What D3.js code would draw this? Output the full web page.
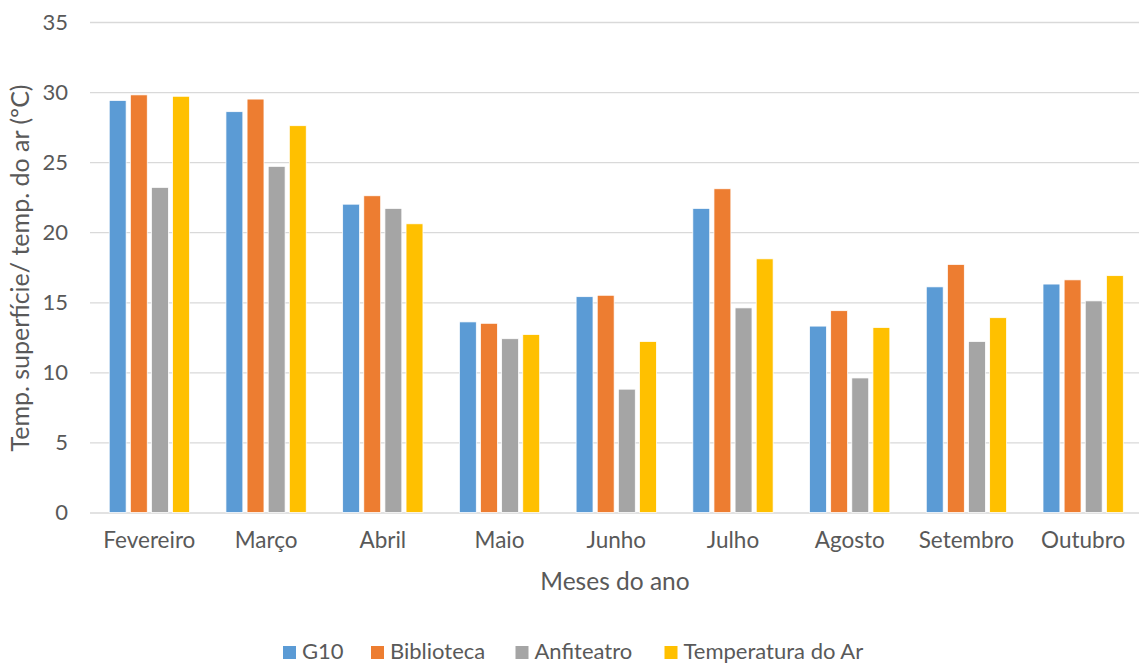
<!DOCTYPE html>
<html>
<head>
<meta charset="utf-8">
<script src="https://cdn.jsdelivr.net/npm/d3@7"></script>
<style>
  html, body { margin: 0; padding: 0; background: #fff; }
  text { font-family: Lato, "Open Sans", sans-serif; fill: #595959; }
</style>
</head>
<body>
<svg id="chart" width="1139" height="664"></svg>
<script>
// Monthly surface and air temperatures (ºC)
const months = ["Fevereiro", "Março", "Abril", "Maio", "Junho", "Julho", "Agosto", "Setembro", "Outubro"];
const seriesNames = ["G10", "Biblioteca", "Anfiteatro", "Temperatura do Ar"];
const g10        = [29.4, 28.6, 22.0, 13.6, 15.4, 21.7, 13.3, 16.1, 16.3];
const biblioteca = [29.8, 29.5, 22.6, 13.5, 15.5, 23.1, 14.4, 17.7, 16.6];
const anfiteatro = [23.2, 24.7, 21.7, 12.4, 8.8, 14.6, 9.6, 12.2, 15.1];
const tempAr     = [29.7, 27.6, 20.6, 12.7, 12.2, 18.1, 13.2, 13.9, 16.9];
const yTicks = [0, 5, 10, 15, 20, 25, 30, 35];
const colors = ["#5B9BD5", "#ED7D31", "#A5A5A5", "#FFC000"];

const seriesValues = [g10, biblioteca, anfiteatro, tempAr];
const svg = d3.select("#chart");

const plot = { left: 90, right: 1139, top: 22, bottom: 512.5 };

const y = d3.scaleLinear().domain([0, 35]).range([plot.bottom, plot.top]);
const x0 = d3.scaleBand().domain(months).range([91, 1141.5]).paddingInner(0.276).paddingOuter(0.138);
const x1 = d3.scaleBand().domain(seriesNames).range([0, x0.bandwidth()]).paddingInner(0.2).paddingOuter(0.1);
const color = d3.scaleOrdinal().domain(seriesNames).range(colors);

// Horizontal gridlines and y tick labels
const yAxis = d3.axisLeft(y).tickValues(yTicks).tickSize(-(plot.right - plot.left)).tickPadding(22);
const yg = svg.append("g").attr("transform", `translate(${plot.left},0)`).call(yAxis);
yg.select(".domain").remove();
yg.selectAll(".tick line").attr("stroke", "#D9D9D9").attr("stroke-width", 1.3);
yg.selectAll(".tick text").style("font-size", "22px").attr("fill", "#595959");

// Bars
const rows = months.map((m, i) => ({ month: m, values: seriesNames.map((s, j) => ({ series: s, value: seriesValues[j][i] })) }));
const groups = svg.append("g").selectAll("g").data(rows).join("g")
  .attr("transform", d => `translate(${x0(d.month)},0)`);
groups.selectAll("rect").data(d => d.values).join("rect")
  .attr("x", d => x1(d.series))
  .attr("y", d => y(d.value))
  .attr("width", x1.bandwidth())
  .attr("height", d => y(0) - y(d.value))
  .attr("fill", d => color(d.series))
  .attr("stroke", "#fff")
  .attr("stroke-width", 0.75);

// Category axis labels
const xAxis = d3.axisBottom(x0).tickSize(0).tickPadding(20);
const xg = svg.append("g").attr("transform", `translate(0,${plot.bottom})`).call(xAxis);
xg.select(".domain").remove();
xg.selectAll(".tick text").style("font-size", "22.5px").attr("fill", "#595959");

// Axis titles
svg.append("text").attr("x", 615).attr("y", 590).attr("text-anchor", "middle")
  .style("font-size", "24.5px").text("Meses do ano");
svg.append("text").attr("transform", "translate(29,268) rotate(-90)").attr("text-anchor", "middle")
  .style("font-size", "25px").text("Temp. superfície/ temp. do ar (ºC)");

// Legend
const legendX = [283, 371, 515.5, 664.5];
const legend = svg.append("g").selectAll("g").data(seriesNames).join("g")
  .attr("transform", (d, i) => `translate(${legendX[i]},646)`);
legend.append("rect").attr("width", 13).attr("height", 13).attr("fill", d => color(d));
legend.append("text").attr("x", 19).attr("y", 13).style("font-size", "22px").text(d => d);
</script>
</body>
</html>
